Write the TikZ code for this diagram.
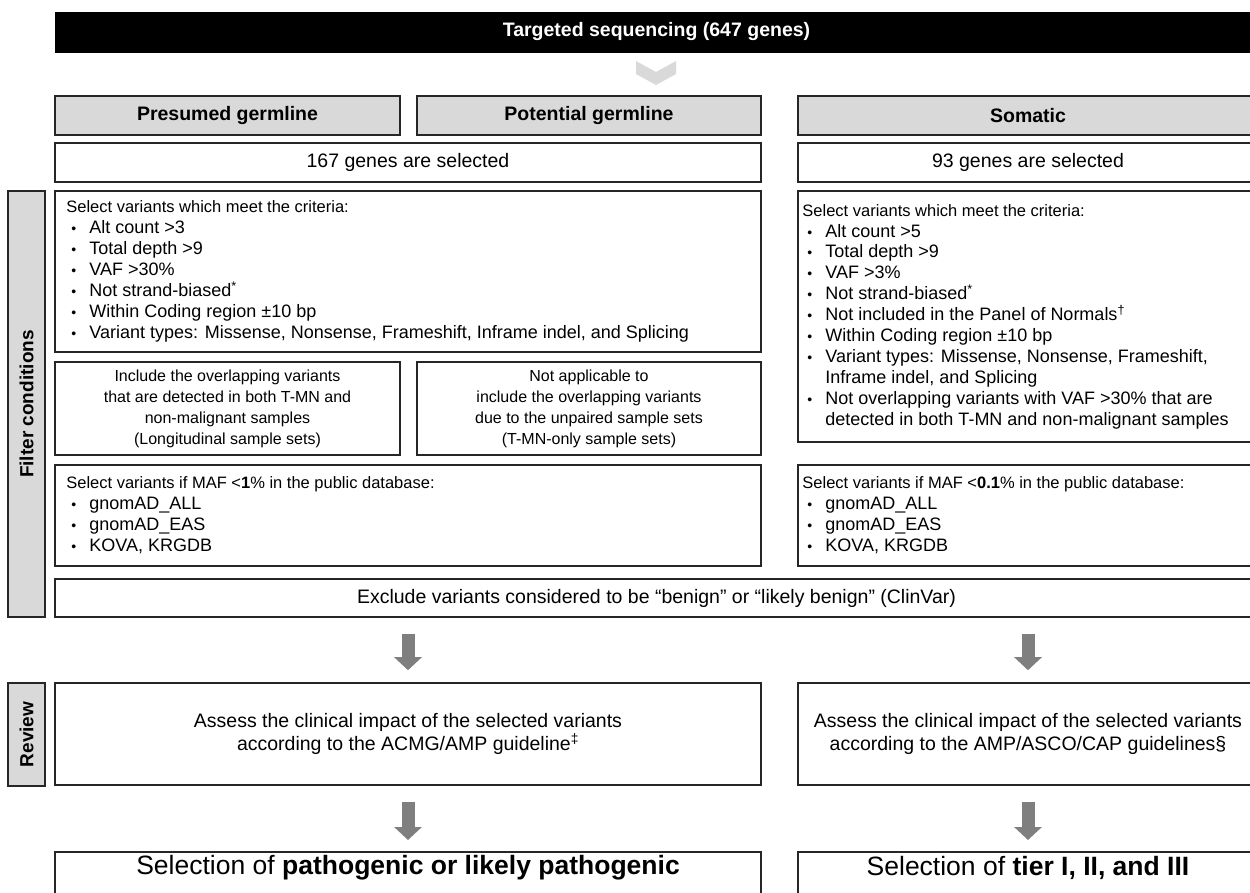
\documentclass[tikz,border=0pt]{standalone}
\usepackage{fontspec}
\setmainfont{Liberation Sans}
\usetikzlibrary{arrows.meta}

\definecolor{boxline}{HTML}{262626}
\definecolor{hdrgray}{HTML}{D9D9D9}
\definecolor{arrowgray}{HTML}{7F7F7F}
\newcommand{\fs}[2]{\fontsize{#1}{#2}\selectfont}
\newcommand{\bul}{\hspace*{5pt}\makebox[18pt][l]{\fs{14}{14}\textbullet}}

\tikzset{
  box/.style={draw=boxline, line width=1.6pt, fill=white, inner sep=0pt},
  hdrbox/.style={box, fill=hdrgray, font=\bfseries\fs{19.5}{23}},
  plain/.style={font=\fs{19.5}{23}, align=center},
  crit/.style={font=\fs{18}{20.9}, align=left, inner sep=0pt, anchor=west},
  small/.style={font=\fs{16}{21}, align=center},
  side/.style={box, fill=hdrgray, rotate=90, font=\bfseries\fs{19}{23}},
  bigarrow/.style={draw=arrowgray, line width=13pt, -{Triangle[width=27pt,length=13pt]}},
}

\begin{document}
\begin{tikzpicture}[x=1pt, y=-1pt]
        \clip (0, 0) rectangle (1250, 893);

        % top bar and chevron
        \node [draw=black, fill=black, text=white, inner sep=0pt, font=\bfseries\fs{19.5}{23},
               minimum width=1203, minimum height=40] (seq) at (656.5, 32) {Targeted sequencing (647 genes)};
        \fill [hdrgray] (636, 61) -- (656, 72) -- (676, 61) -- (676, 74) -- (656, 85) -- (636, 74) -- cycle;

        % column headers
        \node [hdrbox, minimum width=345, minimum height=39] (presumed) at (227.5, 115.5) {Presumed germline};
        \node [hdrbox, minimum width=344, minimum height=39] (potential) at (589, 115.5) {Potential germline};
        \node [hdrbox, minimum width=460, minimum height=39] (somatic) at (1028, 115.5) {Somatic};

        \node [box, plain, minimum width=706, minimum height=39] (genesL) at (408, 162.5) {167 genes are selected};
        \node [box, plain, minimum width=460, minimum height=39] (genesR) at (1028, 162.5) {93 genes are selected};

        % criteria
        \node [box, minimum width=706, minimum height=161] (critL) at (408, 271.5) {};
        \node [crit] (critLtxt) at ([xshift=12pt]critL.west) {%
            {\fs{16.5}{20.9}Select variants which meet the criteria:}\\
            \bul Alt count >3\\
            \bul Total depth >9\\
            \bul VAF >30\%\\
            \bul Not strand-biased\textsuperscript{*}\\
            \bul Within Coding region ±10 bp\\
            \bul Variant types: Missense, Nonsense, Frameshift, Inframe indel, and Splicing};

        \node [box, minimum width=460, minimum height=251] (critR) at (1028, 316.5) {};
        \node [crit] (critRtxt) at ([xshift=5pt]critR.west) {%
            {\fs{16.5}{20.9}Select variants which meet the criteria:}\\
            \bul Alt count >5\\
            \bul Total depth >9\\
            \bul VAF >3\%\\
            \bul Not strand-biased\textsuperscript{*}\\
            \bul Not included in the Panel of Normals\textsuperscript{†}\\
            \bul Within Coding region ±10 bp\\
            \bul Variant types: Missense, Nonsense, Frameshift,\\
            \hspace*{23pt}Inframe indel, and Splicing\\
            \bul Not overlapping variants with VAF >30\% that are\\
            \hspace*{23pt}detected in both T-MN and non-malignant samples};

        % sample sets
        \node [box, small, minimum width=345, minimum height=93] (inclL) at (227.5, 408.5)
            {Include the overlapping variants\\that are detected in both T-MN and\\non-malignant samples\\(Longitudinal sample sets)};
        \node [box, small, minimum width=344, minimum height=93] (inclR) at (589, 408.5)
            {Not applicable to\\include the overlapping variants\\due to the unpaired sample sets\\(T-MN-only sample sets)};

        % population frequency
        \node [box, minimum width=706, minimum height=101] (mafL) at (408, 515.5) {};
        \node [crit] (mafLtxt) at ([xshift=12pt]mafL.west) {%
            {\fs{16.5}{20.9}Select variants if MAF <\textbf{1}\% in the public database:}\\
            \bul gnomAD\_ALL\\
            \bul gnomAD\_EAS\\
            \bul KOVA, KRGDB};
        \node [box, minimum width=460, minimum height=101] (mafR) at (1028, 515.5) {};
        \node [crit] (mafRtxt) at ([xshift=5pt]mafR.west) {%
            {\fs{16.5}{20.9}Select variants if MAF <\textbf{0.1}\% in the public database:}\\
            \bul gnomAD\_ALL\\
            \bul gnomAD\_EAS\\
            \bul KOVA, KRGDB};

        \node [box, plain, minimum width=1203, minimum height=38] (exclude) at (656.5, 598)
            {Exclude variants considered to be “benign” or “likely benign” (ClinVar)};

        % side labels
        \node [side, minimum width=426, minimum height=37] (filter) at (26.5, 404) {Filter conditions};
        \node [side, minimum width=103, minimum height=37] (review) at (26.5, 734.5) {Review};

        % review
        \node [box, plain, minimum width=706, minimum height=102] (reviewL) at (408, 734)
            {Assess the clinical impact of the selected variants\\according to the ACMG/AMP guideline\textsuperscript{‡}};
        \node [box, plain, minimum width=460, minimum height=102] (reviewR) at (1028, 734)
            {Assess the clinical impact of the selected variants\\according to the AMP/ASCO/CAP guidelines§};

        % selection
        \node [box, anchor=north, minimum width=706, minimum height=80] (selL) at (408, 851) {};
        \node [font=\fs{26.5}{30}] (selLtxt) at (408, 868) {Selection of \textbf{pathogenic or likely pathogenic}};
        \node [box, anchor=north, minimum width=460, minimum height=80] (selR) at (1028, 851) {};
        \node [font=\fs{26.5}{30}] (selRtxt) at (1028, 868) {Selection of \textbf{tier I, II, and III}};

        % arrows
        \draw [bigarrow, shorten <=16pt, shorten >=12pt] (exclude.south -| reviewL.north) -- (reviewL.north);
        \draw [bigarrow, shorten <=16pt, shorten >=12pt] (exclude.south -| reviewR.north) -- (reviewR.north);
        \draw [bigarrow, shorten <=16pt, shorten >=11pt] (reviewL.south) -- (selL.north);
        \draw [bigarrow, shorten <=16pt, shorten >=11pt] (reviewR.south) -- (selR.north);
\end{tikzpicture}
\end{document}
